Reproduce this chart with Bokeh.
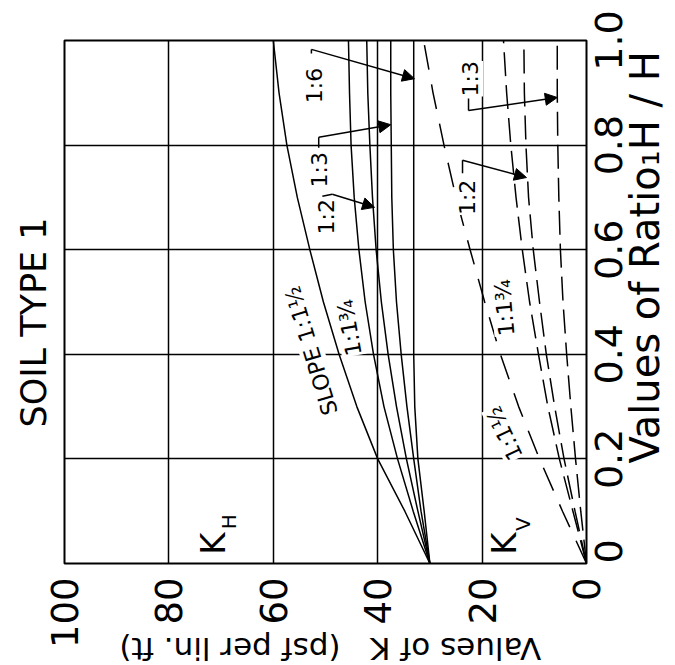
import math
from bokeh.plotting import figure
from bokeh.models import Range1d, FixedTicker, Label, Arrow, NormalHead, LinearAxis
from bokeh.embed import file_html
from bokeh.resources import INLINE

FONT = "DejaVu Sans"

# ---- data ----
ratio = [0.0, 0.1, 0.2, 0.3, 0.4, 0.5, 0.6, 0.7, 0.8, 0.9, 1.0]
# horizontal coefficient K_H (solid)
kh_1_1half = [30, 34.8, 40.0, 44.0, 47.4, 50.4, 53.0, 55.4, 57.4, 58.9, 60.0]
kh_1_1q3   = [30, 33.2, 36.2, 38.8, 40.8, 42.4, 43.6, 44.5, 45.1, 45.4, 45.6]
kh_1_2     = [30, 32.3, 34.5, 36.4, 38.0, 39.3, 40.3, 41.0, 41.5, 41.9, 42.1]
kh_1_3     = [30, 31.7, 33.1, 34.4, 35.5, 36.4, 37.0, 37.3, 37.4, 37.5, 37.5]
kh_1_6     = [30, 31.1, 32.3, 32.9, 33.1, 33.1, 33.1, 33.1, 33.1, 33.1, 33.1]
# vertical coefficient K_V (dashed)
kv_1_1half = [0, 4.6, 9.0, 13.0, 16.5, 19.5, 22.3, 25.0, 27.3, 29.4, 31.2]
kv_1_1q3   = [0, 2.6, 5.2, 7.4, 9.2, 10.9, 12.3, 13.5, 14.5, 15.3, 15.9]
kv_1_2     = [0, 2.2, 4.3, 6.1, 7.7, 9.0, 10.2, 11.1, 11.6, 11.9, 12.0]
kv_1_3     = [0, 1.1, 2.1, 3.0, 3.8, 4.5, 5.0, 5.3, 5.5, 5.6, 5.6]

k_ticks = [0, 20, 40, 60, 80, 100]
r_ticks = [0, 0.2, 0.4, 0.6, 0.8, 1.0]
r_labels = ["0", "0.2", "0.4", "0.6", "0.8", "1.0"]
x_title = "Values of K\u00a0\u00a0\u00a0(psf per lin. ft)"
y_title = "Values of Ratio\u2081H / H"
x_title_pos = 89.5    # where the (upside-down) title ends
y_title_pos = 0.191   # where the title starts

FRAME_H = 523
TICK_PX = 38

p = figure(frame_width=522, frame_height=FRAME_H,
           x_range=Range1d(100, 0), y_range=Range1d(0, 1),
           y_axis_location="right", title="SOIL TYPE 1", title_location="left",
           output_backend="svg", toolbar_location=None,
           min_border_left=63, min_border_top=40, min_border_right=10, min_border_bottom=10)

p.title.text_font = FONT
p.title.text_font_size = "35px"
p.title.text_font_style = "normal"
p.title.align = "left"
p.title.offset = 136
p.title.text_color = "black"
p.title.standoff = 22

p.outline_line_color = "black"
p.outline_line_width = 2

def style_axis(ax, size):
    ax.axis_line_color = None
    ax.major_tick_line_color = None
    ax.minor_tick_line_color = None
    ax.major_tick_out = 0
    ax.major_tick_in = 0
    ax.minor_tick_out = 0
    ax.minor_tick_in = 0
    ax.major_label_text_font = FONT
    ax.major_label_text_font_size = size
    ax.major_label_text_color = "black"

style_axis(p.xaxis[0], "37px")
style_axis(p.yaxis[0], f"{TICK_PX}px")
p.xaxis.major_label_orientation = math.pi / 2
p.yaxis.major_label_orientation = math.pi / 2
p.xaxis.ticker = FixedTicker(ticks=k_ticks)
p.xaxis.major_label_standoff = 14
p.yaxis.major_label_standoff = 22

# rotated ratio labels start at their anchor: move each anchor down by half its length
def half_len(s):
    em = sum(0.318 if c == "." else 0.636 for c in s)
    return em * TICK_PX / 2 / FRAME_H

anchors = [max(0.0, round(t - half_len(s), 5)) for t, s in zip(r_ticks, r_labels)]
p.yaxis.ticker = FixedTicker(ticks=anchors)
p.yaxis.major_label_overrides = {a: s for a, s in zip(anchors, r_labels)}

# axis titles, drawn as extra axes carrying one label each
ax_t = LinearAxis(ticker=FixedTicker(ticks=[x_title_pos]),
                  major_label_overrides={x_title_pos: x_title})
style_axis(ax_t, "31px")
ax_t.major_label_orientation = math.pi
ax_t.major_label_standoff = -3
p.add_layout(ax_t, "below")

ay_t = LinearAxis(ticker=FixedTicker(ticks=[y_title_pos]),
                  major_label_overrides={y_title_pos: y_title})
style_axis(ay_t, "40px")
ay_t.major_label_orientation = math.pi / 2
ay_t.major_label_standoff = 7
p.add_layout(ay_t, "right")

p.xgrid.ticker = FixedTicker(ticks=[20, 40, 60, 80])
p.ygrid.ticker = FixedTicker(ticks=[0.2, 0.4, 0.6, 0.8])
for g in (p.xgrid[0], p.ygrid[0]):
    g.grid_line_color = "black"
    g.grid_line_width = 1.5

for ks in (kh_1_1half, kh_1_1q3, kh_1_2, kh_1_3, kh_1_6):
    p.line(ks, ratio, line_color="black", line_width=1.5)

p.line(kv_1_1half, ratio, line_color="black", line_width=1.5, line_dash="25 15")
for ks in (kv_1_1q3, kv_1_2, kv_1_3):
    p.line(ks, ratio, line_color="black", line_width=1.5, line_dash="24 9")

def lab(text, x, y, angle_deg, size="22px", bg=True):
    l = Label(x=x, y=y, text=text, angle=math.radians(angle_deg),
              text_font=FONT, text_font_size=size, text_color="black",
              text_align="center", text_baseline="middle")
    if bg:
        l.background_fill_color = "white"
    p.add_layout(l)

lab("SLOPE 1:1\u00bd", 52.7, 0.407, 107)
lab("1:1\u00be", 45.4, 0.451, 100)
lab("1:2", 49.8, 0.663, 90)
lab("1:3", 51.1, 0.753, 90)
lab("1:6", 52.1, 0.914, 90)
lab("1:1\u00bd", 15.7, 0.249, 115)
lab("1:1\u00be", 15.7, 0.489, 95)
lab("1:2", 22.8, 0.70, 90)
lab("1:3", 22.2, 0.927, 90)

lab("K", 71.6, 0.038, 90, "34px", bg=False)
lab("H", 68.4, 0.080, 90, "20px", bg=False)
lab("K", 15.9, 0.038, 90, "34px", bg=False)
lab("V", 12.1, 0.075, 90, "20px", bg=False)

def leader(pts, tip):
    p.line([q[0] for q in pts], [q[1] for q in pts], line_color="black", line_width=1.5)
    p.add_layout(Arrow(end=NormalHead(size=12, fill_color="black", line_color="black"),
                       x_start=pts[-1][0], y_start=pts[-1][1], x_end=tip[0], y_end=tip[1],
                       line_color="black", line_width=1.5))

leader([(52.7, 0.975), (52.7, 0.983)], (32.95, 0.927))
leader([(51.3, 0.795), (51.3, 0.815)], (37.5, 0.839))
leader([(50.6, 0.702), (48.7, 0.706)], (40.6, 0.681))
leader([(23.75, 0.746), (23.75, 0.771)], (11.5, 0.738))
leader([(22.6, 0.889), (22.6, 0.866)], (5.6, 0.891))

open("out.html", "w").write(file_html(p, INLINE))
